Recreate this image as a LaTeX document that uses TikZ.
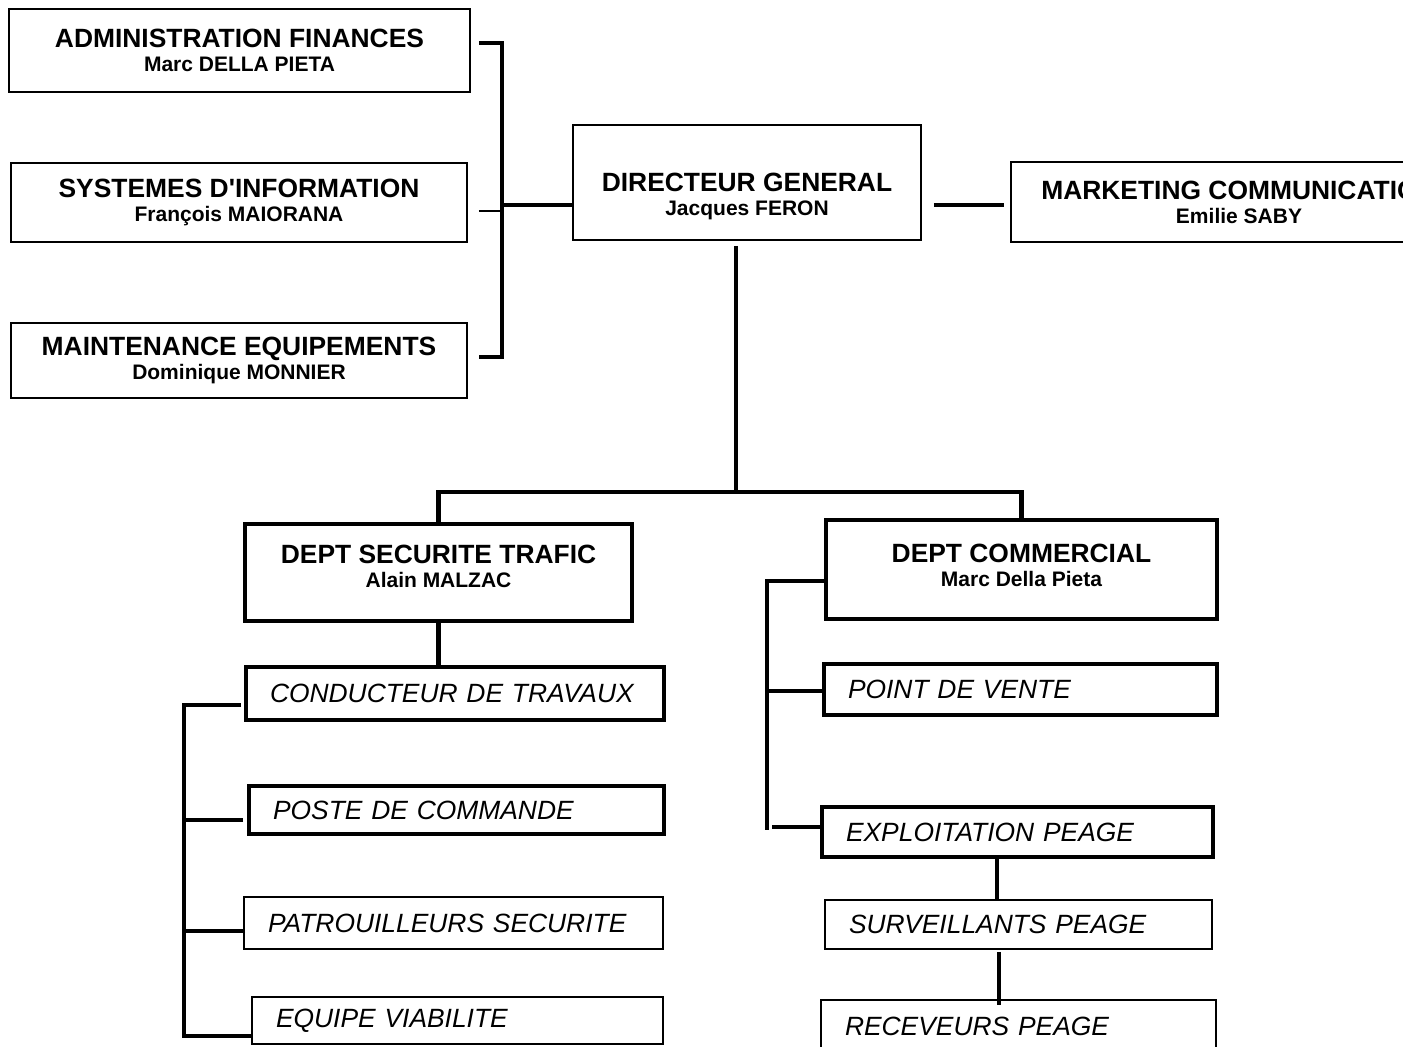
\documentclass[tikz,border=0pt]{standalone}
\usepackage{fontspec}
\setmainfont{Liberation Sans}[Ligatures=TeXOff]
\usetikzlibrary{calc}

\tikzset{
  unit/.style={draw, line width=0.8pt, align=center, inner sep=0pt,
    font=\fontsize{13.2}{12}\selectfont\bfseries},
  dept/.style={unit, line width=2pt},
  post/.style={draw, line width=2pt, align=left, text width=#1,
    inner xsep=12pt, inner ysep=0pt, font=\fontsize{13.2}{15}\selectfont\itshape},
  postthin/.style={post=#1, line width=0.8pt},
  link/.style={line width=2.2pt},
  thinlink/.style={line width=0.7pt},
}
\newcommand{\boss}[1]{\\{\fontsize{10.5}{12}\selectfont #1}}

\begin{document}
\begin{tikzpicture}[x=0.5pt, y=-0.5pt]
\useasboundingbox (0,0) rectangle (1403,1046);
\clip (0,0) rectangle (1403,1046);

% Direction
\node[unit, minimum width=174pt, minimum height=57.5pt, text height=35.5pt] (dg) at (747,182.5) {DIRECTEUR GENERAL\boss{Jacques FERON}};
\node[unit, minimum width=228pt, minimum height=40pt] (mkt) at (1239,202) {MARKETING COMMUNICATION\boss{Emilie SABY}};

% Services on the left
\node[unit, minimum width=230.5pt, minimum height=41.5pt] (adm) at (239.5,50.5) {ADMINISTRATION FINANCES\boss{Marc DELLA PIETA}};
\node[unit, minimum width=228pt, minimum height=39.5pt] (sys) at (239,202.5) {SYSTEMES D'INFORMATION\boss{François MAIORANA}};
\node[unit, minimum width=228pt, minimum height=37.5pt] (mnt) at (239,360.5) {MAINTENANCE EQUIPEMENTS\boss{Dominique MONNIER}};

% Departments
\node[dept, minimum width=193.5pt, minimum height=48.5pt, text depth=6pt] (sec) at (438.5,572.5) {DEPT SECURITE TRAFIC\boss{Alain MALZAC}};
\node[dept, minimum width=195.5pt, minimum height=49.5pt, text depth=4pt] (com) at (1021.5,569.5) {DEPT COMMERCIAL\boss{Marc Della Pieta}};

% Securite trafic teams
\node[post=185pt, minimum height=26.5pt] (cond) at (455,693.5) {CONDUCTEUR DE TRAVAUX};
\node[post=183.5pt, minimum height=24pt] (poste) at (456.5,810) {POSTE DE COMMANDE};
\node[postthin=185.5pt, minimum height=26pt] (patr) at (453.5,923) {PATROUILLEURS SECURITE};
\node[postthin=181.5pt, minimum height=23.5pt] (equ) at (457.5,1020.5) {EQUIPE VIABILITE};

% Commercial teams
\node[post=172.5pt, minimum height=25.5pt] (pdv) at (1020.5,689.5) {POINT DE VENTE};
\node[post=171.5pt, minimum height=25pt] (expl) at (1017.5,832) {EXPLOITATION PEAGE};
\node[postthin=169.5pt, minimum height=24.5pt] (surv) at (1018.5,924.5) {SURVEILLANTS PEAGE};
\node[postthin=173.5pt, minimum height=26pt] (rec) at (1018.5,1026) {RECEVEURS PEAGE};

% Links of the direction
\draw[link] ($(adm.east)+(8,-7.5)$) -- ++(23,0) |- ($(mnt.east)+(11,-3.5)$);
\draw[thinlink] ($(sys.east)+(11,8.5)$) -- ++(23,0);
\draw[link] ($(dg.west)+(0,22.5)$) -- ++(-72,0);
\draw[link] ($(dg.east)+(12,22.5)$) -- ($(mkt.west)+(-6,3)$);

% Down to the departments
\coordinate (fork) at (736,492);
\draw[link] ($(dg.south)+(-11,5)$) -- (fork);
\draw[link] (sec.north) |- (fork) -| (com.north);
\draw[link] (sec.south) -- (sec.south |- cond.north);

% Securite trafic bracket
\coordinate (secspine) at (184,1036);
\draw[link] ($(cond.west)+(-3,11.5)$) -| (secspine) -- ($(equ.west)+(0,15.5)$);
\draw[link] ($(poste.west)+(-4,10)$) -- ++(-61,0);
\draw[link] ($(patr.west)+(2,8)$) -- ++(-62,0);

% Commercial bracket
\coordinate (comspine) at (767,830);
\draw[link] ($(com.west)+(0,11.5)$) -| (comspine);
\draw[link] ($(pdv.west)+(0,1.5)$) -- ++(-57,0);
\draw[link] ($(expl.west)+(0,-5)$) -- ++(-48,0);

% Peage chain
\coordinate (explfoot) at ($(expl.south)+(-20.5,0)$);
\draw[link] (explfoot) -- (explfoot |- surv.north);
\coordinate (survfoot) at ($(surv.south)+(-19.5,2)$);
\draw[link] (survfoot) -- ($(rec.north)+(-19.5,6)$);

\end{tikzpicture}
\end{document}
